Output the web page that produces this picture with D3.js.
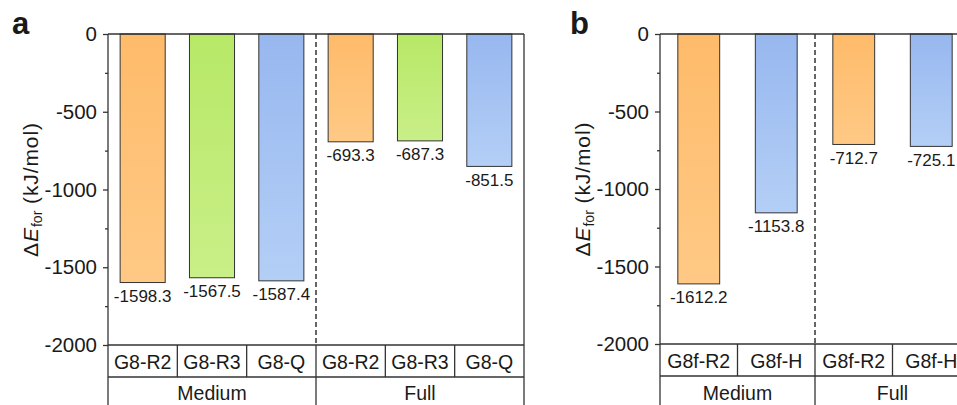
<!DOCTYPE html>
<html>
<head>
<meta charset="utf-8">
<script src="https://cdn.jsdelivr.net/npm/d3@7"></script>
<style>
  body { margin: 0; background: #fff; }
  text { font-family: Arial, "Liberation Sans", sans-serif; fill: #1a1a1a; }
</style>
</head>
<body>
<div id="chart"></div>
<script>
// data
const groups = ["Medium", "Full"];
const molsA = ["G8-R2", "G8-R3", "G8-Q"];
const mediumA = [-1598.3, -1567.5, -1587.4];
const fullA = [-693.3, -687.3, -851.5];
const molsB = ["G8f-R2", "G8f-H"];
const mediumB = [-1612.2, -1153.8];
const fullB = [-712.7, -725.1];
const majorTicks = [0, -500, -1000, -1500, -2000];
const minorTicks = [-250, -750, -1250, -1750];

const W = 957, H = 405;
const ink = "#333";

const svg = d3.select("#chart").append("svg")
  .attr("width", W).attr("height", H);

// gradient fills (darker top, lighter bottom)
const fills = {
  orange: ["#febb6a", "#ffc985"],
  green: ["#b7e866", "#c9ef88"],
  blue: ["#97b7ef", "#b4cff6"]
};
const defs = svg.append("defs");
Object.entries(fills).forEach(([k, c]) => {
  const g = defs.append("linearGradient").attr("id", "g-" + k)
    .attr("x1", 0).attr("y1", 0).attr("x2", 0).attr("y2", 1);
  g.append("stop").attr("offset", "0%").attr("stop-color", c[0]);
  g.append("stop").attr("offset", "100%").attr("stop-color", c[1]);
});

function colorOf(name) {
  if (name.endsWith("R2")) return "orange";
  if (name.endsWith("R3")) return "green";
  return "blue";
}

function drawPanel(opt) {
  const { left, right, top, bottom, mols, medium, full, barFrac, letter, letterX } = opt;
  const rows = [];
  medium.forEach((v, i) => rows.push({ key: "m" + i, mol: mols[i], value: v, group: 0 }));
  full.forEach((v, i) => rows.push({ key: "f" + i, mol: mols[i], value: v, group: 1 }));

  const x = d3.scaleBand().domain(rows.map(d => d.key)).range([left, right]).padding(0);
  const y = d3.scaleLinear().domain([0, -2000]).range([top, bottom]);
  const bw = x.bandwidth();
  const rowY = bottom + 32;
  const tableEnd = H + 5;

  const g = svg.append("g");

  // bars
  g.selectAll("rect.bar").data(rows).enter().append("rect")
    .attr("class", "bar")
    .attr("x", d => x(d.key) + bw * (1 - barFrac) / 2)
    .attr("width", bw * barFrac)
    .attr("y", y(0))
    .attr("height", d => y(d.value) - y(0))
    .attr("fill", d => `url(#g-${colorOf(d.mol)})`)
    .attr("stroke", ink)
    .attr("stroke-width", 1);

  // value labels
  g.selectAll("text.val").data(rows).enter().append("text")
    .attr("class", "val")
    .attr("x", d => x(d.key) + bw / 2)
    .attr("y", d => y(d.value) + 19.5)
    .attr("text-anchor", "middle")
    .attr("font-size", 17)
    .text(d => d.value.toFixed(1));

  // y axis, major + minor
  const ax = g.append("g").attr("transform", `translate(${left},0)`)
    .call(d3.axisLeft(y).tickValues(majorTicks).tickSize(5).tickPadding(6).tickFormat(d => String(d)));
  ax.select(".domain").remove();
  ax.selectAll("line").attr("stroke", ink).attr("stroke-width", 1.3);
  ax.selectAll("text").attr("font-size", 20.5).attr("font-family", "Arial, 'Liberation Sans', sans-serif").attr("fill", "#1a1a1a");

  const mx = g.append("g").attr("transform", `translate(${left},0)`)
    .call(d3.axisLeft(y).tickValues(minorTicks).tickSize(3).tickFormat(""));
  mx.select(".domain").remove();
  mx.selectAll("line").attr("stroke", ink).attr("stroke-width", 1.3);

  // frame + table lines
  const line = (x1, y1, x2, y2) => g.append("line")
    .attr("x1", x1).attr("y1", y1).attr("x2", x2).attr("y2", y2)
    .attr("stroke", ink).attr("stroke-width", 1.3);
  line(left, top, left, tableEnd);
  line(right, top, right, tableEnd);
  line(left, top, right, top);
  line(left, bottom, right, bottom);
  line(left, rowY, right, rowY);

  const n = mols.length;
  rows.forEach((d, i) => {
    if (i > 0 && i % n !== 0) line(x(d.key), bottom, x(d.key), rowY);
  });
  const split = x(rows[n].key);
  line(split, bottom, split, tableEnd);
  g.append("line")
    .attr("x1", split).attr("x2", split).attr("y1", top).attr("y2", bottom)
    .attr("stroke", ink).attr("stroke-width", 1.5).attr("stroke-dasharray", "5,3");

  // category labels
  g.selectAll("text.cat").data(rows).enter().append("text")
    .attr("class", "cat")
    .attr("x", d => x(d.key) + bw / 2)
    .attr("y", bottom + 23.5)
    .attr("text-anchor", "middle")
    .attr("font-size", 19.5)
    .text(d => d.mol);

  groups.forEach((name, gi) => {
    const x0 = gi === 0 ? left : split;
    const x1 = gi === 0 ? split : right;
    g.append("text")
      .attr("x", (x0 + x1) / 2)
      .attr("y", 400)
      .attr("text-anchor", "middle")
      .attr("font-size", 19.5)
      .text(name);
  });

  // y axis title
  const yt = g.append("text")
    .attr("transform", `translate(${left - 70},${(top + bottom) / 2}) rotate(-90)`)
    .attr("text-anchor", "middle")
    .attr("font-size", 21)
    .attr("letter-spacing", 0.9);
  yt.append("tspan").text("Δ");
  yt.append("tspan").attr("font-style", "italic").text("E");
  yt.append("tspan").attr("font-size", 14).attr("dy", 4).attr("letter-spacing", 0).text("for");
  yt.append("tspan").attr("dy", -4).text(" (kJ/mol)");

  // panel letter
  svg.append("text")
    .attr("x", letterX).attr("y", 34)
    .attr("font-size", 31).attr("font-weight", "bold")
    .text(letter);
}

drawPanel({ left: 108, right: 524, top: 34, bottom: 345, mols: molsA, medium: mediumA, full: fullA,
  barFrac: 0.65, letter: "a", letterX: 12 });
drawPanel({ left: 660, right: 970, top: 34, bottom: 344, mols: molsB, medium: mediumB, full: fullB,
  barFrac: 0.54, letter: "b", letterX: 570 });
</script>
</body>
</html>
